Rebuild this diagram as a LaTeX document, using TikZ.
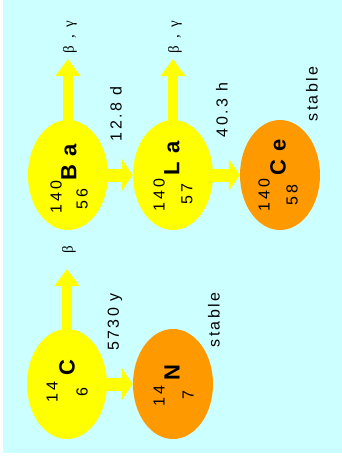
\documentclass[tikz,border=0pt]{standalone}
\usepackage{fontspec}
\setmainfont{Liberation Sans}
\newfontfamily\spacedfont[LetterSpace=15]{Liberation Sans}
\newfontfamily\numfont[LetterSpace=20]{Liberation Sans}
\newfontfamily\spacedbold[LetterSpace=38]{Liberation Sans Bold}
\newfontfamily\greekfont[LetterSpace=22]{Liberation Serif}
\usetikzlibrary{shapes.geometric,arrows.meta,calc}
\definecolor{bgcyan}{HTML}{CCFFFF}
\definecolor{nucyellow}{HTML}{FFFF00}
\definecolor{nucorange}{HTML}{FF9900}

\begin{document}
\begin{tikzpicture}[x=1pt,y=-1pt,
  nucleus/.style={ellipse, minimum width=80pt, minimum height=110pt, inner sep=0pt},
  unstable/.style={nucleus, fill=nucyellow},
  stablenuc/.style={nucleus, fill=nucorange},
  rot/.style={rotate=90, inner sep=0pt, anchor=center},
  sym/.style={rot, font=\spacedbold\fontsize{22}{22}\selectfont},
  num/.style={rot, font=\numfont\fontsize{16}{16}\selectfont},
  lbl/.style={rot, font=\spacedfont\fontsize{16}{16}\selectfont},
  rad/.style={rot, font=\greekfont\fontsize{15}{15}\selectfont},
  decay/.style={nucyellow, line width=13pt, -{Triangle[width=32pt,length=11pt]}},
  emit/.style={nucyellow, line width=10pt, -{Triangle[width=24pt,length=17pt]}},
]
\useasboundingbox (0,0) rectangle (342,463);
\fill[white] (0,0) rectangle (342,463);
\fill[bgcyan] (3,0) rectangle (342,453);

% nuclei
\node[unstable]  (Ba) at (68,175) {};
\node[unstable]  (La) at (173,175) {};
\node[stablenuc] (Ce) at (280,175) {};
\node[unstable]  (C)  at (67,384) {};
\node[stablenuc] (N)  at (173,384) {};

% free ends of the emission arrows
\coordinate (BaOut) at (68,59);
\coordinate (LaOut) at (173,59);
\coordinate (COut)  at (67,269);

% decay chains
\draw[decay] ($(Ba.east)+(-3,0)$) -- (La.west);
\draw[decay] ($(La.east)+(-3,0)$) -- (Ce.west);
\draw[decay] ($(C.east)+(-3,0)$) -- (N.west);

% emitted radiation
\draw[emit] ($(Ba.north)+(0,3)$) -- (BaOut);
\draw[emit] ($(La.north)+(0,3)$) -- (LaOut);
\draw[emit] ($(C.north)+(0,3)$) -- (COut);

% element symbols, mass and atomic numbers
\node[sym] (Ba-s) at ($(Ba)+(1,-13)$) {Ba};
\node[num] (Ba-a) at (56,197) {140};
\node[num] (Ba-z) at (82,199) {56};

\node[sym] (La-s) at ($(La)+(-1,-17)$) {La};
\node[num] (La-a) at (159,195) {140};
\node[num] (La-z) at (187,194) {57};

\node[sym] (Ce-s) at ($(Ce)+(-2,-18)$) {Ce};
\node[num] (Ce-a) at (264,195) {140};
\node[num] (Ce-z) at (292,195) {58};

\node[sym] (C-s) at ($(C)+(0,-16)$) {C};
\node[num] (C-a) at (52,392) {14};
\node[num] (C-z) at (82,392) {6};

\node[sym] (N-s) at ($(N)+(-1,-11)$) {N};
\node[num] (N-a) at (159,396) {14};
\node[num] (N-z) at (188,395) {7};

% radiation labels
\node[rad] (Ba-r) at (70,37) {β , γ};
\node[rad] (La-r) at (175,37) {β , γ};
\node[rad] (C-r)  at (69,250) {β};

% half-lives and end products
\node[lbl] (t1) at (116,114) {12.8 d};
\node[lbl] (t2) at (222,110) {40.3 h};
\node[lbl] (t3) at (115,322) {5730 y};
\node[lbl] (s1) at (312,94)  {stable};
\node[lbl] (s2) at (214,320) {stable};
\end{tikzpicture}
\end{document}
